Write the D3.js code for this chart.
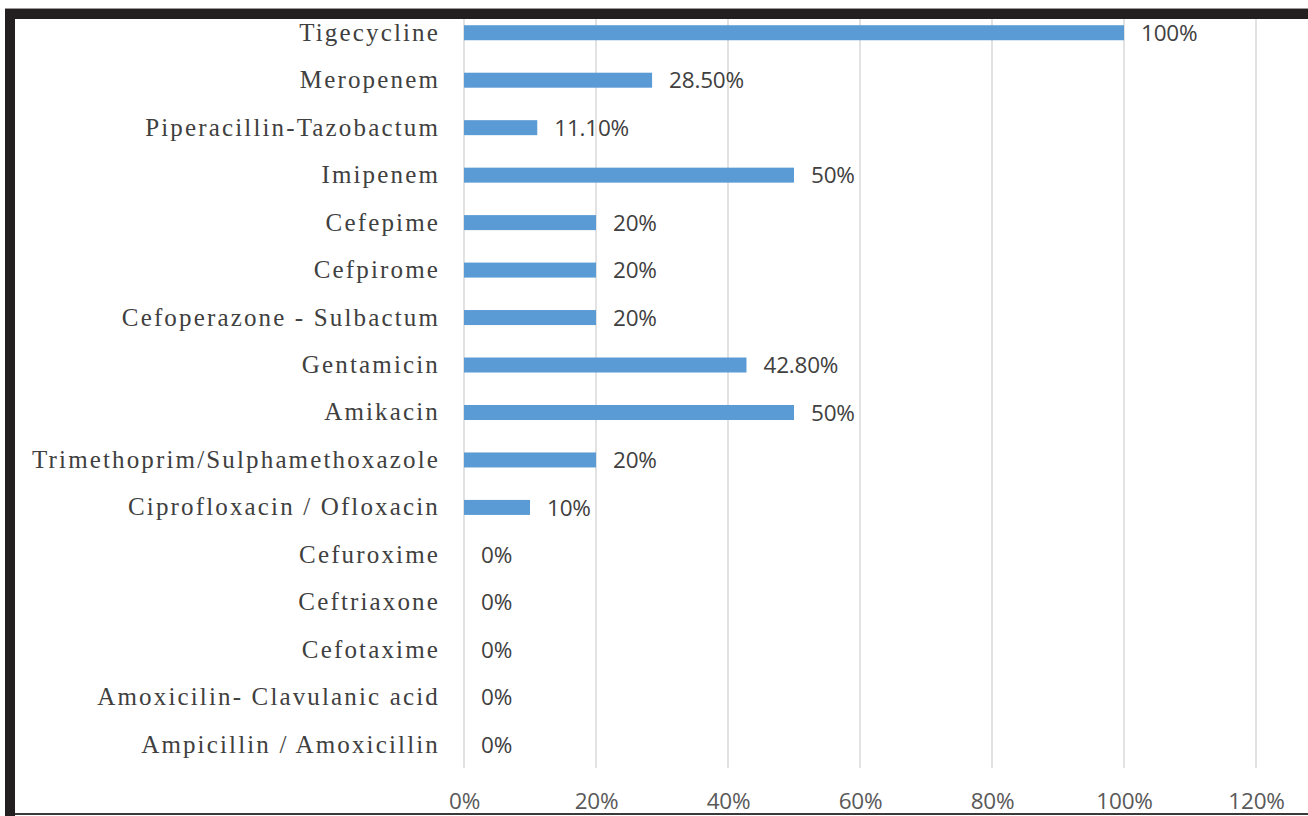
<!DOCTYPE html>
<html>
<head>
<meta charset="utf-8">
<script src="https://cdn.jsdelivr.net/npm/d3@7"></script>
<style>
  body { margin: 0; background: #fff; }
  svg { display: block; }
</style>
</head>
<body>
<div class="canvas"></div>
<script>
// data (top row first)
const drugs = [
  'Tigecycline', 'Meropenem', 'Piperacillin-Tazobactum', 'Imipenem',
  'Cefepime', 'Cefpirome', 'Cefoperazone - Sulbactum', 'Gentamicin',
  'Amikacin', 'Trimethoprim/Sulphamethoxazole', 'Ciprofloxacin / Ofloxacin',
  'Cefuroxime', 'Ceftriaxone', 'Cefotaxime', 'Amoxicilin- Clavulanic acid',
  'Ampicillin / Amoxicillin'
]
const sensitivity = [100, 28.5, 11.1, 50, 20, 20, 20, 42.8, 50, 20, 10, 0, 0, 0, 0, 0]
const xTicks = [0, 20, 40, 60, 80, 100, 120]

const data = drugs.map((d, i) => ({ name: d, value: sensitivity[i] }))

const width = 1308
const height = 816

const svg = d3.select('.canvas')
  .append('svg')
    .attr('width', width)
    .attr('height', height)

const margin = { top: 9, right: 52, bottom: 48, left: 464 }
const graphWidth = width - margin.left - margin.right
const graphHeight = height - margin.top - margin.bottom

const x = d3.scaleLinear()
  .domain([0, 120])
  .range([0, graphWidth])

const y = d3.scaleBand()
  .domain(drugs)
  .range([0, graphHeight + 0.5])
  .paddingInner(0.684)
  .paddingOuter(0.342)

const graph = svg.append('g')
  .attr('transform', `translate(${margin.left},${margin.top})`)

// gridlines
graph.append('g')
  .selectAll('line')
  .data(xTicks)
  .enter()
  .append('line')
    .attr('x1', d => x(d))
    .attr('x2', d => x(d))
    .attr('y1', 0)
    .attr('y2', graphHeight)
    .attr('stroke', '#d9d9d9')
    .attr('stroke-width', 1.5)

// bars
graph.selectAll('rect.bar')
  .data(data)
  .enter()
  .append('rect')
    .attr('class', 'bar')
    .attr('x', 0)
    .attr('y', d => y(d.name))
    .attr('width', d => x(d.value))
    .attr('height', y.bandwidth())
    .attr('fill', '#5b9bd5')

// value labels
const fmt = v => (Number.isInteger(v) ? v : v.toFixed(2)) + '%'
graph.selectAll('text.val')
  .data(data)
  .enter()
  .append('text')
    .attr('class', 'val')
    .attr('x', d => x(d.value) + 17)
    .attr('y', d => y(d.name) + y.bandwidth() / 2)
    .attr('dy', '0.36em')
    .attr('font-family', 'Open Sans, sans-serif')
    .attr('font-size', 22.5)
    .attr('letter-spacing', -0.2)
    .attr('fill', '#404040')
    .text(d => fmt(d.value))

// category axis
const yAxisGroup = graph.append('g')
  .attr('transform', 'translate(-24,0)')
yAxisGroup.call(d3.axisLeft(y).tickSize(0).tickPadding(0))
yAxisGroup.select('.domain').remove()
yAxisGroup.selectAll('text')
  .attr('font-family', 'Liberation Serif, Times New Roman, serif')
  .attr('font-size', 25)
  .attr('letter-spacing', 2.15)
  .attr('fill', '#404040')

// value axis
const xAxisGroup = graph.append('g')
  .attr('transform', `translate(0,${graphHeight})`)
xAxisGroup.call(d3.axisBottom(x).tickValues(xTicks).tickSize(0).tickPadding(25).tickFormat(d => d + '%'))
xAxisGroup.select('.domain').remove()
xAxisGroup.selectAll('text')
  .attr('font-family', 'Open Sans, sans-serif')
  .attr('font-size', 22.5)
  .attr('letter-spacing', -0.2)
  .attr('fill', '#595959')

// dark frame round the cropped figure
svg.append('line')
  .attr('x1', 5).attr('x2', width)
  .attr('y1', 8.5).attr('y2', 8.5)
  .attr('stroke', '#9a9a9a')
svg.append('rect')
  .attr('x', 5).attr('y', 9)
  .attr('width', width - 5).attr('height', 10)
  .attr('fill', '#231f20')
svg.append('rect')
  .attr('x', 5).attr('y', 9)
  .attr('width', 10).attr('height', height - 9)
  .attr('fill', '#231f20')
svg.append('rect')
  .attr('x', 15).attr('y', 813)
  .attr('width', width - 15).attr('height', 2)
  .attr('fill', '#3a3a3a')
</script>
</body>
</html>
